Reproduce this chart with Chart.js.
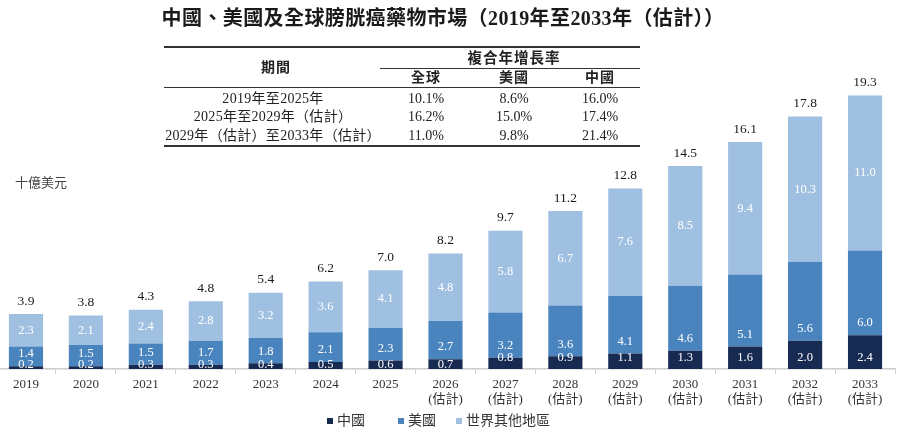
<!DOCTYPE html>
<html><head><meta charset="utf-8">
<script src="https://cdn.jsdelivr.net/npm/chart.js@4.4.1/dist/chart.umd.min.js"></script>
<style>
html,body{margin:0;padding:0;background:#fff;}
body{width:900px;height:431px;position:relative;overflow:hidden;font-family:'Liberation Serif','Noto Sans CJK TC',serif;color:#222;}
#wrap{position:absolute;left:-4px;top:0;width:904px;height:431px;}
.t{position:absolute;white-space:nowrap;transform:translate(-50%,-50%);line-height:1;}
.l{position:absolute;white-space:nowrap;line-height:1;}
.ln{position:absolute;background:#333;}
.sq{position:absolute;width:6px;height:6px;}
</style></head><body>
<div id="wrap"><canvas id="c"></canvas></div>
<div id="overlay"></div>
<script>
// ---- data ----
const years = ['2019','2020','2021','2022','2023','2024','2025','2026','2027','2028','2029','2030','2031','2032','2033'];
const estMark = '(估計)';
const firstEstimateIndex = 7;
const chinaValues = [0.2,0.2,0.3,0.3,0.4,0.5,0.6,0.7,0.8,0.9,1.1,1.3,1.6,2.0,2.4];
const usValues    = [1.4,1.5,1.5,1.7,1.8,2.1,2.3,2.7,3.2,3.6,4.1,4.6,5.1,5.6,6.0];
const rowValues   = [2.3,2.1,2.4,2.8,3.2,3.6,4.1,4.8,5.8,6.7,7.6,8.5,9.4,10.3,11.0];
const totalValues = [3.9,3.8,4.3,4.8,5.4,6.2,7.0,8.2,9.7,11.2,12.8,14.5,16.1,17.8,19.3];
const seriesNames = ['中國','美國','世界其他地區'];
const seriesColors = ['#172a52','#4a84bf','#a0c0e1'];
const chartTitle = '中國、美國及全球膀胱癌藥物市場（2019年至2033年（估計））';
const unitLabel = '十億美元';
// CAGR table
const tableHeadPeriod = '期間';
const tableHeadCagr = '複合年增長率';
const tableColNames = ['全球','美國','中國'];
const tablePeriods = ['2019年至2025年','2025年至2029年（估計）','2029年（估計）至2033年（估計）'];
const cagrGlobal = ['10.1%','16.2%','11.0%'];
const cagrUS     = ['8.6%','15.0%','9.8%'];
const cagrChina  = ['16.0%','17.4%','21.4%'];

// ---- overlay text (title, table, unit, legend) ----
const ov = document.getElementById('overlay');
function txt(s, x, y, css, cls){ const d=document.createElement('div'); d.className=cls||'t'; d.textContent=s; d.style.left=x+'px'; d.style.top=y+'px'; d.style.cssText+=';'+(css||''); ov.appendChild(d); return d; }
function line(x,y,w,h){ const d=document.createElement('div'); d.className='ln'; d.style.left=x+'px'; d.style.top=y+'px'; d.style.width=w+'px'; d.style.height=h+'px'; ov.appendChild(d); }
txt(chartTitle, 443, 18, 'font-size:20px;font-weight:bold;color:#1a1a1a;letter-spacing:0.4px;');
// table
const tL=164, tR=640;
line(tL,45.5,tR-tL,2);
line(380,67.5,tR-380,1.3);
line(tL,86.5,tR-tL,1.3);
line(tL,144.5,tR-tL,2);
txt(tableHeadPeriod, 276, 68, 'font-size:14px;font-weight:bold;letter-spacing:1px;');
txt(tableHeadCagr, 514, 58, 'font-size:14.5px;font-weight:bold;letter-spacing:1px;');
const colX=[426,514,600];
tableColNames.forEach((n,i)=>txt(n, colX[i], 77.5, 'font-size:14px;font-weight:bold;letter-spacing:1px;'));
const rowY=[98.5,117,135.5];
tablePeriods.forEach((p,r)=>{
  txt(p, 273, rowY[r], 'font-size:14px;letter-spacing:0.3px;');
  txt(cagrGlobal[r], colX[0], rowY[r], 'font-size:14px;');
  txt(cagrUS[r], colX[1], rowY[r], 'font-size:14px;');
  txt(cagrChina[r], colX[2], rowY[r], 'font-size:14px;');
});
txt(unitLabel, 15, 176, 'font-size:13px;color:#444;', 'l');
// legend
const legSq=[327,398,456];
seriesNames.forEach((n,i)=>{
  const s=document.createElement('div'); s.className='sq'; s.style.left=legSq[i]+'px'; s.style.top='417.5px'; s.style.background=seriesColors[i]; ov.appendChild(s);
  txt(n, legSq[i]+10, 413.5, 'font-size:14px;color:#333;', 'l');
});

// ---- chart ----
const xLabels = years.map((y,i)=> i>=firstEstimateIndex ? [y, estMark] : y);
const serifFont = "'Liberation Serif','Noto Sans CJK TC',serif";

const valueLabels = {
  id:'valueLabels',
  afterDatasetsDraw(chart){
    const ctx=chart.ctx; ctx.save();
    ctx.textAlign='center'; ctx.textBaseline='middle';
    ctx.font="12.5px 'Liberation Serif'"; ctx.fillStyle='#ffffff';
    chart.data.datasets.forEach((ds,di)=>{
      const meta=chart.getDatasetMeta(di);
      meta.data.forEach((bar,i)=>{
        const v=ds.data[i]; let y;
        if(di===2) y=(bar.y+bar.base)/2;
        else if(di===1) y=bar.base-12;
        else y=bar.base-(v<0.75?4.5:11);
        ctx.fillText(v.toFixed(1), bar.x, y);
      });
    });
    const top=chart.getDatasetMeta(2);
    ctx.fillStyle='#1a1a1a'; ctx.font="13.5px 'Liberation Serif'";
    top.data.forEach((bar,i)=>ctx.fillText(totalValues[i].toFixed(1), bar.x, bar.y-13));
    ctx.restore();
  }
};

new Chart(document.getElementById('c'), {
  type:'bar',
  data:{
    labels:xLabels,
    datasets:[
      {label:seriesNames[0], data:chinaValues, backgroundColor:seriesColors[0]},
      {label:seriesNames[1], data:usValues, backgroundColor:seriesColors[1]},
      {label:seriesNames[2], data:rowValues, backgroundColor:seriesColors[2]}
    ]
  },
  options:{
    responsive:true, maintainAspectRatio:false, animation:false,
    layout:{padding:{top:87,left:0,right:5,bottom:0}},
    datasets:{bar:{categoryPercentage:1, barPercentage:0.57, borderWidth:0}},
    plugins:{legend:{display:false}, tooltip:{enabled:false}, title:{display:false}},
    scales:{
      x:{
        stacked:true,
        grid:{display:true, drawOnChartArea:false, drawTicks:true, tickLength:5, color:'#d0d0d0', offset:true},
        border:{display:true, color:'#cccccc', width:1.5},
        ticks:{font:{family:serifFont, size:13, lineHeight:1.15}, color:'#333', padding:3, maxRotation:0, autoSkip:false},
        afterFit(s){ s.height=62; }
      },
      y:{stacked:true, display:false, min:0, max:20}
    }
  },
  plugins:[valueLabels]
});
</script>
</body></html>
